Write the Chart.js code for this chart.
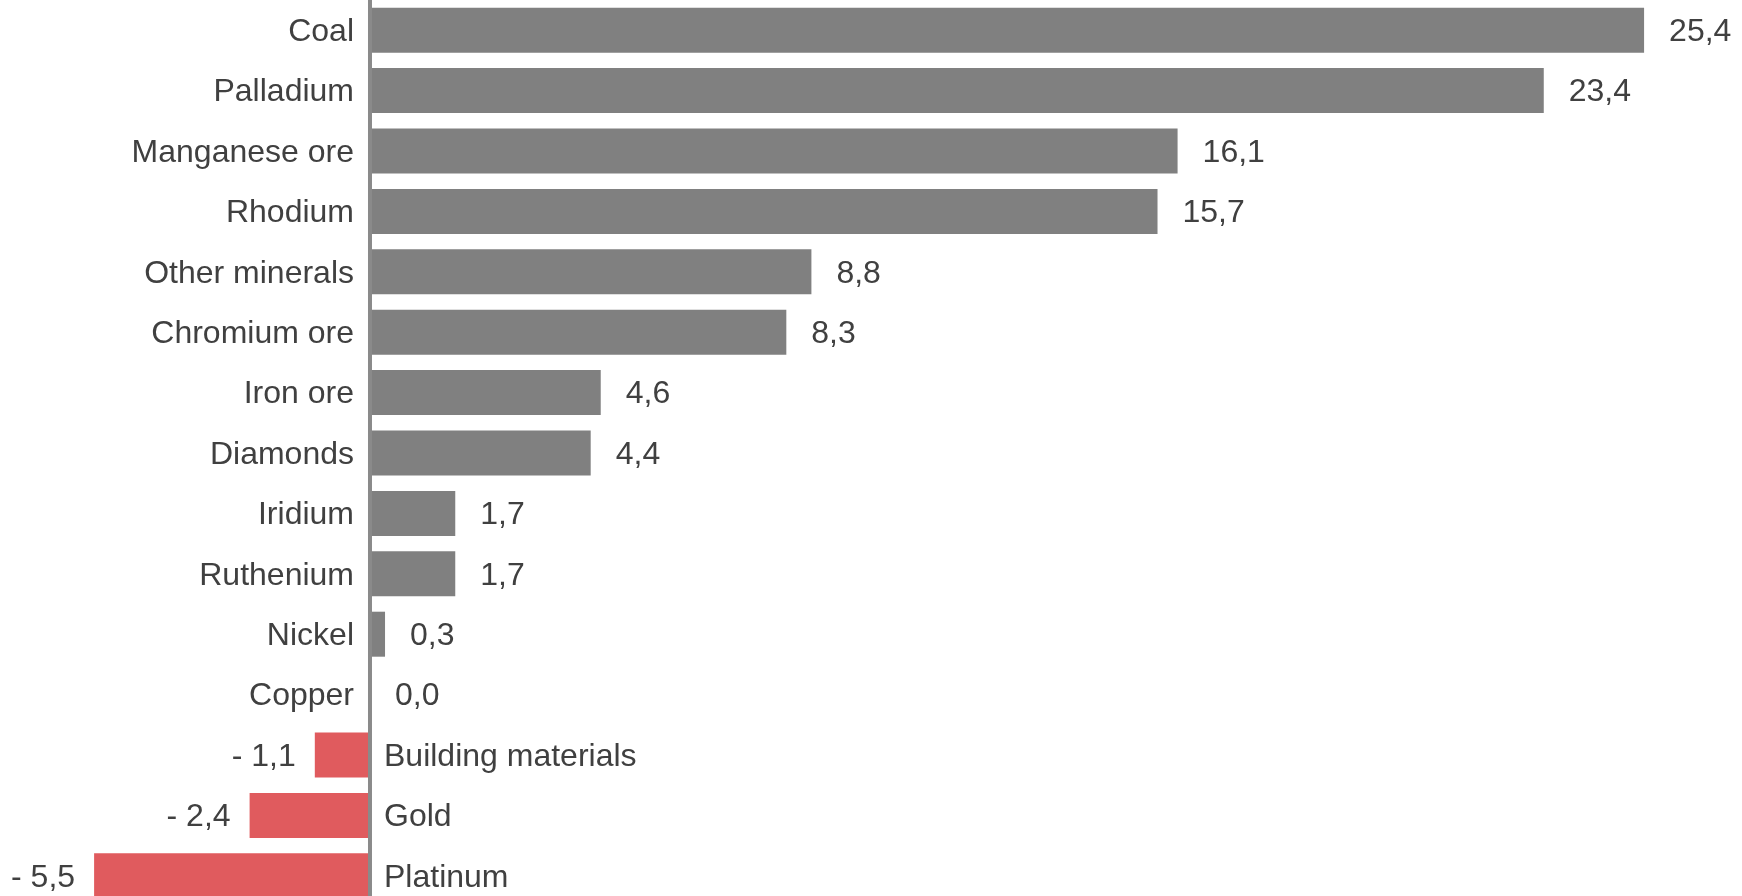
<!DOCTYPE html>
<html>
<head>
<meta charset="utf-8">
<script src="https://cdn.jsdelivr.net/npm/chart.js@4/dist/chart.umd.min.js"></script>
<style>
  html, body { margin: 0; padding: 0; background: #fff; overflow: hidden; width: 1742px; height: 896px; }
  #c { position: absolute; left: 0; top: 0; }
</style>
</head>
<body>
<canvas id="c" width="1742" height="906"></canvas>
<script>
const categories = ["Coal", "Palladium", "Manganese ore", "Rhodium", "Other minerals", "Chromium ore", "Iron ore", "Diamonds", "Iridium", "Ruthenium", "Nickel", "Copper", "Building materials", "Gold", "Platinum"];
const values = [25.4, 23.4, 16.1, 15.7, 8.8, 8.3, 4.6, 4.4, 1.7, 1.7, 0.3, 0.0, -1.1, -2.4, -5.5];

const POS_COLOR = "#808080";
const NEG_COLOR = "#E05B5E";
const TEXT_COLOR = "#404040";
const FONT = "32px 'Liberation Sans', Arial, sans-serif";

function fmt(v) {
  const s = Math.abs(v).toFixed(1).replace(".", ",");
  return v < 0 ? "- " + s : s;
}

const labelPlugin = {
  id: "labels",
  afterDatasetsDraw(chart) {
    const ctx = chart.ctx;
    const xs = chart.scales.x;
    const meta = chart.getDatasetMeta(0);
    const x0 = xs.getPixelForValue(0);
    ctx.save();
    ctx.strokeStyle = "#8a8a8a";
    ctx.lineWidth = 4;
    ctx.beginPath();
    ctx.moveTo(x0, 0);
    ctx.lineTo(x0, chart.height);
    ctx.stroke();
    ctx.font = FONT;
    ctx.fillStyle = TEXT_COLOR;
    ctx.textBaseline = "middle";
    meta.data.forEach((bar, i) => {
      const v = values[i];
      const y = bar.y + 2;
      const xe = xs.getPixelForValue(v);
      if (v >= 0) {
        ctx.textAlign = "right";
        ctx.fillText(categories[i], x0 - 16, y);
        ctx.textAlign = "left";
        ctx.fillText(fmt(v), xe + 25, y);
      } else {
        ctx.textAlign = "left";
        ctx.fillText(categories[i], x0 + 14, y);
        ctx.textAlign = "right";
        ctx.fillText(fmt(v), xe - 19, y);
      }
    });
    ctx.restore();
  }
};

new Chart(document.getElementById("c"), {
  type: "bar",
  data: {
    labels: categories,
    datasets: [{
      data: values,
      backgroundColor: values.map(v => v < 0 ? NEG_COLOR : POS_COLOR),
      borderWidth: 0,
      categoryPercentage: 1.0,
      barPercentage: 0.745
    }]
  },
  options: {
    indexAxis: "y",
    responsive: false,
    animation: false,
    devicePixelRatio: 1,
    layout: { padding: 0 },
    plugins: { legend: { display: false }, tooltip: { enabled: false } },
    scales: {
      x: { display: false, min: -7.376, max: 27.352 },
      y: { display: false }
    }
  },
  plugins: [labelPlugin]
});
</script>
</body>
</html>
